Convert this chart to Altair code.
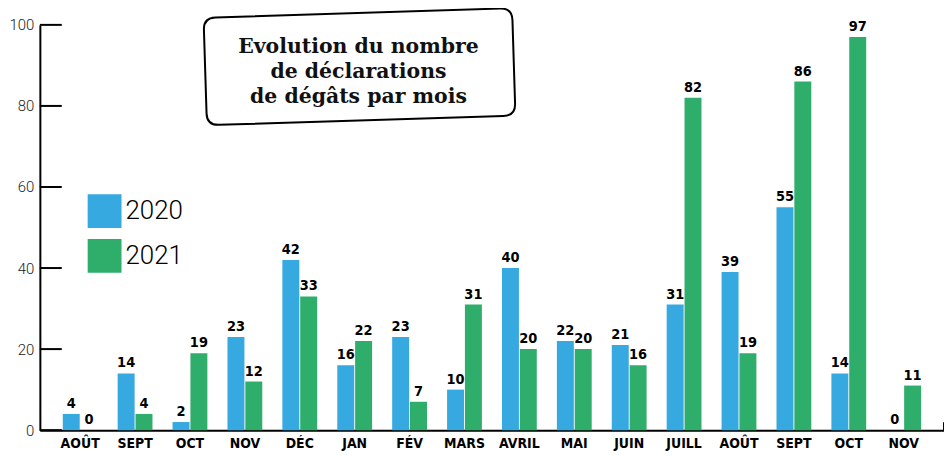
import altair as alt
import pandas as pd

months = ["AOÛT", "SEPT", "OCT", "NOV", "DÉC", "JAN", "FÉV", "MARS", "AVRIL",
          "MAI", "JUIN", "JUILL", "AOÛT", "SEPT", "OCT", "NOV"]
v2020 = [4, 14, 2, 23, 42, 16, 23, 10, 40, 22, 21, 31, 39, 55, 14, 0]
v2021 = [0, 4, 19, 12, 33, 22, 7, 31, 20, 20, 16, 82, 19, 86, 97, 11]
years = ["2020", "2021"]
colors = ["#36A9E1", "#2EAD6B"]
y_ticks = [0, 20, 40, 60, 80, 100]
title_lines = ["Evolution du nombre", "de déclarations", "de dégâts par mois"]

rows = []
for i, m in enumerate(months):
    rows.append({"idx": i, "month": m, "year": "2020", "value": v2020[i]})
    rows.append({"idx": i, "month": m, "year": "2021", "value": v2021[i]})
df = pd.DataFrame(rows)

W, H = 908, 407
COND = "DejaVu Sans Condensed"
label_expr = "[" + ",".join(f"'{m}'" for m in months) + "][datum.value]"

x = alt.X("idx:O",
          scale=alt.Scale(paddingInner=0.366, paddingOuter=0.417),
          axis=alt.Axis(title=None, labelExpr=label_expr, labelAngle=0, ticks=False,
                        domainColor="black", domainWidth=2, labelFont=COND,
                        labelFontSize=14, labelFontWeight="bold", labelColor="black",
                        labelPadding=6))
xo = alt.XOffset("year:N", scale=alt.Scale(paddingInner=0.05))
y = alt.Y("value:Q", scale=alt.Scale(domain=[0, 100], nice=False),
          axis=alt.Axis(title=None, values=y_ticks, ticks=False, grid=False,
                        domainColor="black", domainWidth=2, labelFont="Roboto",
                        labelFontWeight=300, labelFontSize=15, labelColor="#222",
                        labelPadding=6))

bars = alt.Chart(df).mark_bar().encode(
    x=x, xOffset=xo, y=y,
    color=alt.Color("year:N", scale=alt.Scale(domain=years, range=colors),
                    legend=alt.Legend(title=None, orient="none", legendX=48, legendY=170,
                                      symbolType="square", symbolSize=1156,
                                      symbolStrokeWidth=0, symbolOpacity=1,
                                      labelFontSize=26, labelFont="Roboto",
                                      labelFontWeight=300, labelColor="black",
                                      rowPadding=11, labelOffset=4, padding=0)),
)

labels = alt.Chart(df).mark_text(
    dy=-3, baseline="bottom", font=COND, fontSize=14.5, fontWeight="bold", color="black"
).encode(x=x, xOffset=xo, y=y, text="value:Q")

tick_df = pd.DataFrame({"value": y_ticks})
ticks = alt.Chart(tick_df).mark_rule(color="black", strokeWidth=2).encode(
    y=y, x=alt.value(0), x2=alt.value(22))

end_tick = alt.Chart(pd.DataFrame({"k": [0]})).mark_rule(color="black", strokeWidth=2).encode(
    x=alt.value(W), y=alt.value(H - 8), y2=alt.value(H))

box_path = ("M -0.923,-0.348 L 0.923,-0.348 Q 1,-0.348 1,-0.271 L 1,0.271 "
            "Q 1,0.348 0.923,0.348 L -0.923,0.348 Q -1,0.348 -1,0.271 "
            "L -1,-0.271 Q -1,-0.348 -0.923,-0.348 Z")
box = alt.Chart(pd.DataFrame({"k": [0]})).mark_point(
    shape=box_path, size=96100, filled=True, fill="white", stroke="black",
    strokeWidth=2, opacity=1, fillOpacity=1, strokeOpacity=1, angle=358.2
).encode(x=alt.value(321), y=alt.value(42))

title = alt.Chart(pd.DataFrame({"k": [0]})).mark_text(
    align="center", baseline="alphabetic", font="DejaVu Serif", fontWeight="bold",
    fontSize=20.5, lineHeight=25, color="#111"
).encode(x=alt.value(320), y=alt.value(28), text=alt.value(title_lines))

chart = alt.layer(bars, labels, ticks, end_tick, box, title).properties(
    width=W, height=H,
    autosize=alt.AutoSizeParams(type="none"),
    padding={"left": 32, "top": 16, "right": 0, "bottom": 22},
).configure_view(stroke=None)

chart.save("out.html", embed_options={"renderer": "svg", "actions": False})
